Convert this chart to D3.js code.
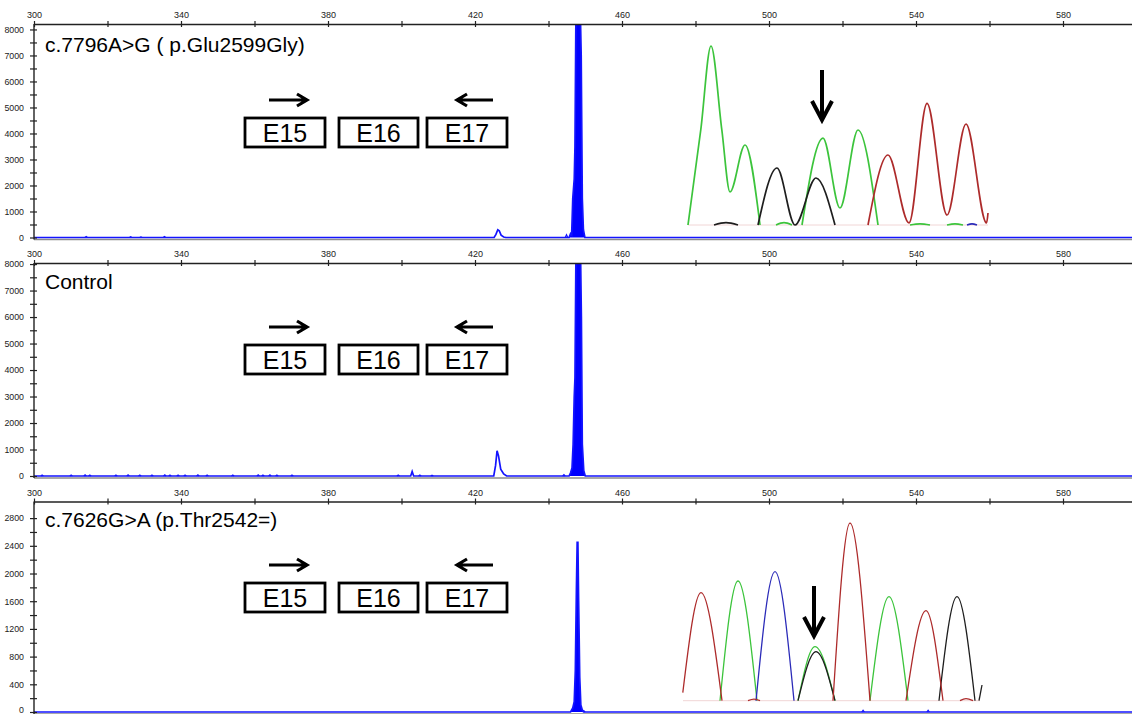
<!DOCTYPE html>
<html>
<head>
<meta charset="utf-8">
<script src="https://cdn.jsdelivr.net/npm/d3@7"></script>
<style>
  html, body { margin: 0; padding: 0; background: #fff; }
  svg { display: block; }
  text { font-family: Arial, "Liberation Sans", sans-serif; }
</style>
</head>
<body>
<svg id="chart" width="1132" height="714"></svg>
<script>
// ---------- data ----------
// Fragment size axis (bp), shared by the three capillary runs
const sizeTicks = [300, 320, 340, 360, 380, 400, 420, 440, 460, 480, 500, 520, 540, 560, 580, 600];
const sizeTickLabels = [300, 340, 380, 420, 460, 500, 540, 580];

const panelTitles = ["c.7796A>G ( p.Glu2599Gly)", "Control", "c.7626G>A (p.Thr2542=)"];

// RFU axis ticks
const rfuMajorHigh = [0, 1000, 2000, 3000, 4000, 5000, 6000, 7000, 8000];
const rfuMinorHigh = [500, 1500, 2500, 3500, 4500, 5500, 6500, 7500];
const rfuMajorLow = [0, 400, 800, 1200, 1600, 2000, 2400, 2800];
const rfuMinorLow = [200, 600, 1000, 1400, 1800, 2200, 2600];
const rfuDomainMax = [8210, 8040, 3040];

// Blue channel traces [size bp, RFU]
const traceVariant1 = [[300, 0], [425.2, 0], [425.7, 120], [426.2, 300], [426.6, 260], [427.1, 90], [427.8, 20], [428.4, 0], [600, 0]];
const peakVariant1 = [[445.6, 0], [446.0, 150], [446.3, 100], [446.6, 1500], [447.0, 2250], [447.2, 3500], [447.45, 8400], [448.7, 8400], [448.9, 7000], [449.2, 1500], [449.5, 300], [449.9, 0]];
const noiseVariant1 = [[314.2, 35], [326.3, 30], [329.1, 25], [335.5, 35], [444.9, 110]];

const traceControl = [[300, 0], [402.5, 0], [402.9, 170], [403.3, 0], [425.1, 0], [425.6, 400], [426.0, 950], [426.4, 760], [427.0, 260], [427.8, 80], [428.6, 0], [600, 0]];
const peakControl = [[445.6, 0], [446.0, 120], [446.4, 300], [446.7, 1200], [447.0, 3000], [447.2, 3700], [447.45, 8100], [448.75, 8100], [448.95, 6000], [449.2, 1200], [449.6, 200], [450.0, 0]];
const noiseControl = [[302.2, 40], [310.1, 35], [313.9, 45], [315.2, 35], [322.3, 40], [325.6, 45], [328.8, 40], [332.1, 40], [335.6, 45], [337.0, 35], [339.2, 40], [341.1, 40], [344.6, 45], [347.1, 35], [354.1, 40], [361.0, 45], [362.3, 40], [364.2, 45], [366.1, 40], [370.2, 40], [399.1, 40], [405.0, 40], [408.3, 30], [444.2, 50]];

const traceVariant2 = [[300, 0], [600, 0]];
const peakVariant2 = [[446.0, 0], [446.6, 60], [447.0, 150], [447.3, 600], [447.6, 1800], [447.8, 2450], [448.0, 2450], [448.2, 1600], [448.5, 500], [448.8, 100], [449.2, 30], [449.6, 0]];
const noiseVariant2 = [[449.6, 20], [525.6, 25], [543.3, 25]];

// Exon schematic
const exonLabels = ["E15", "E16", "E17"];

// Sanger trace excerpts [scan, signal], split into drawn segments
const seqVariant1Green = [
  [[1, 0], [7.4, 1030], [12.5, 1935], [17.9, 1030], [22, 357], [29.5, 865], [37, 0]],
  [[45, 0], [49, 25], [53, 0]],
  [[58, 0], [68.5, 940], [77, 184], [86, 1027], [96, 0]],
  [[112, 0], [117, 12], [122, 0]],
  [[130.5, 0], [134.5, 12], [138.5, 0]]
];
const seqVariant1Black = [
  [[14, 0], [20, 25], [26, 0]],
  [[36, 0], [45.5, 616], [54.5, 0], [65, 508], [74.5, 0]]
];
const seqVariant1Red = [
  [[91, 0], [101, 757], [111.5, 22], [120.5, 1315], [130.5, 108], [140, 1092], [150.3, 22], [151, 130]]
];
const seqVariant1Blue = [
  [[140.5, 0], [143, 12], [145.5, 0]]
];
const seqVariant1Arrow = [68, 1676, 1135]; // scan, tail signal, tip signal

const seqVariant2Red = [
  [[1.4, 80], [10.5, 1080], [21, 0]],
  [[34, 0], [37, 15], [40, 0]],
  [[76.5, 0], [85, 1777], [95, 0]],
  [[113, 0], [123, 900], [131.5, 0]],
  [[140, 0], [143, 20], [146.5, 0]]
];
const seqVariant2Green = [
  [[20, 0], [29, 1197], [38.5, 0]],
  [[59, 0], [67.5, 540], [77.5, 0]],
  [[95, 0], [104.5, 1040], [114, 0]]
];
const seqVariant2Blue = [
  [[38, 0], [47.5, 1290], [57, 0]]
];
const seqVariant2Black = [
  [[59, 0], [68, 490], [77.5, 0]],
  [[129.5, 0], [138.5, 1040], [147.5, 0]],
  [[149.5, 0], [151, 157]]
];
const seqVariant2Arrow = [67, 1147, 647];

// ---------- layout ----------
const W = 1132, H = 714;
const svg = d3.select("#chart");
const x = d3.scaleLinear().domain([300, 600]).range([34, 34 + 300 * 3.675]);

const panels = [
  { title: panelTitles[0], top: 24, zero: 237.5, titleY: 51.5, schemY: 100,
    major: rfuMajorHigh, minor: rfuMinorHigh, max: rfuDomainMax[0],
    trace: traceVariant1, peak: peakVariant1, noise: noiseVariant1,
    seq: { x0: 686, x1: 996, base: 225, top: 40, baseFrom: 1, baseTo: 151, width: 1.7,
           green: seqVariant1Green, black: seqVariant1Black, red: seqVariant1Red, blue: seqVariant1Blue,
           arrow: seqVariant1Arrow } },
  { title: panelTitles[1], top: 263, zero: 476, titleY: 289, schemY: 327,
    major: rfuMajorHigh, minor: rfuMinorHigh, max: rfuDomainMax[1],
    trace: traceControl, peak: peakControl, noise: noiseControl, seq: null },
  { title: panelTitles[2], top: 501.5, zero: 712, titleY: 526.5, schemY: 565,
    major: rfuMajorLow, minor: rfuMinorLow, max: rfuDomainMax[2],
    trace: traceVariant2, peak: peakVariant2, noise: noiseVariant2,
    seq: { x0: 680, x1: 990, base: 700.7, top: 500.7, baseFrom: 1.5, baseTo: 150, width: 1.3,
           green: seqVariant2Green, black: seqVariant2Black, red: seqVariant2Red, blue: seqVariant2Blue,
           arrow: seqVariant2Arrow } }
];

// schematic units -> pixels (exon boxes and primer arrows)
const schem = d3.scaleLinear().domain([0, 262]).range([245, 507]);
const exonSpans = [[0, 80], [94, 173], [182, 262]];
const primerFwd = [24, 62];
const primerRev = [248, 212];

const traceBlue = "#1414ff";
const seqColors = { green: "#3cc43c", black: "#1e1e1e", red: "#ad2b2b", blue: "#2b2bb8" };
const axisFont = "Arial, 'Liberation Sans', sans-serif";

panels.forEach((p, i) => {
  const g = svg.append("g");
  const y = d3.scaleLinear().domain([0, p.max]).range([p.zero, p.top]);

  const clipId = "clip" + i;
  svg.append("clipPath").attr("id", clipId)
    .append("rect").attr("x", x(300)).attr("y", p.top).attr("width", W - x(300)).attr("height", p.zero - p.top + 3);

  // bottom frame line
  g.append("line")
    .attr("x1", x(300)).attr("x2", W)
    .attr("y1", p.zero + 2).attr("y2", p.zero + 2)
    .attr("stroke", "#8c8c8c").attr("stroke-width", 1.6);

  // ---- blue channel ----
  const plot = g.append("g").attr("clip-path", `url(#${clipId})`);
  const full = p.trace.concat(p.peak).sort((a, b) => a[0] - b[0]);
  plot.append("path")
    .datum(p.peak)
    .attr("d", d3.area().x(d => x(d[0])).y0(y(0)).y1(d => y(d[1])))
    .attr("fill", "#0000ff");
  plot.append("path")
    .datum(full)
    .attr("d", d3.line().x(d => x(d[0])).y(d => y(d[1])))
    .attr("fill", "none").attr("stroke", traceBlue).attr("stroke-width", 1.7);
  plot.selectAll("path.noise").data(p.noise).join("path")
    .attr("class", "noise")
    .attr("d", d => `M${x(d[0] - 0.35)},${y(0)}L${x(d[0])},${y(d[1])}L${x(d[0] + 0.35)},${y(0)}`)
    .attr("fill", "none").attr("stroke", traceBlue).attr("stroke-width", 1.2);

  // ---- size axis (top) ----
  const xa = g.append("g").attr("transform", `translate(0,${p.top})`)
    .call(d3.axisTop(x).tickValues(sizeTicks).tickSize(3).tickSizeOuter(0).tickPadding(3)
      .tickFormat(d => sizeTickLabels.includes(d) ? d : ""));
  xa.select(".domain").attr("stroke", "#222").attr("stroke-width", 1.4);
  xa.selectAll(".tick line").attr("y1", 3).attr("stroke", "#222").attr("stroke-width", 1.2);
  xa.selectAll(".tick text").attr("font-size", 9).attr("fill", "#222").attr("font-family", axisFont);

  // ---- RFU axis (left) ----
  const ya = g.append("g").attr("transform", `translate(${x(300)},0)`)
    .call(d3.axisLeft(y).tickValues(p.major).tickSize(4).tickSizeOuter(0).tickPadding(6).tickFormat(d3.format("d")));
  ya.select(".domain").attr("d", `M0,${p.zero + 2}V${p.top}`).attr("stroke", "#222").attr("stroke-width", 1.4);
  ya.selectAll(".tick line").attr("x1", 3).attr("stroke", "#222").attr("stroke-width", 1.2);
  ya.selectAll(".tick text").attr("font-size", 8.8).attr("fill", "#222").attr("font-family", axisFont)
    .attr("dy", d => (d === 0 && p.zero > H - 6) ? "0.1em" : "0.32em");
  const ym = g.append("g").attr("transform", `translate(${x(300)},0)`)
    .call(d3.axisLeft(y).tickValues(p.minor).tickSize(4).tickFormat(""));
  ym.select(".domain").remove();
  ym.selectAll(".tick line").attr("x1", 3).attr("stroke", "#222").attr("stroke-width", 1.2);

  // ---- panel title ----
  g.append("text").attr("x", 45).attr("y", p.titleY)
    .attr("font-size", 21).attr("fill", "#000").text(p.title);

  // ---- exon schematic ----
  const sg = g.append("g");
  const boxTop = p.schemY + 18, boxH = 29;
  sg.selectAll("rect").data(exonSpans).join("rect")
    .attr("x", d => schem(d[0])).attr("y", boxTop)
    .attr("width", d => schem(d[1]) - schem(d[0])).attr("height", boxH)
    .attr("fill", "#fff").attr("stroke", "#000").attr("stroke-width", 2.8);
  sg.selectAll("text").data(exonSpans).join("text")
    .attr("x", d => (schem(d[0]) + schem(d[1])) / 2).attr("y", boxTop + 23.5)
    .attr("text-anchor", "middle").attr("font-size", 25).attr("fill", "#000")
    .text((d, k) => exonLabels[k]);
  [primerFwd, primerRev].forEach(pr => {
    const xs = schem(pr[0]), xe = schem(pr[1]), dir = Math.sign(xe - xs);
    sg.append("path")
      .attr("d", `M${xs},${p.schemY}H${xe - dir * 1.5}M${xe - dir * 10},${p.schemY - 6}L${xe},${p.schemY}L${xe - dir * 10},${p.schemY + 6}`)
      .attr("fill", "none").attr("stroke", "#000").attr("stroke-width", 3.2)
      .attr("stroke-linejoin", "miter");
  });

  // ---- Sanger inset ----
  if (p.seq) {
    const s = p.seq;
    const sx = d3.scaleLinear().domain([0, 155]).range([s.x0, s.x1]);
    const sy = d3.scaleLinear().domain([0, 2000]).range([s.base, s.top]);
    const ig = g.append("g");
    ig.append("line").attr("x1", sx(s.baseFrom)).attr("x2", sx(s.baseTo))
      .attr("y1", sy(0)).attr("y2", sy(0)).attr("stroke", "#f1d6d6").attr("stroke-width", 1);
    const ln = d3.line().x(d => sx(d[0])).y(d => sy(d[1])).curve(d3.curveMonotoneX);
    ["green", "black", "blue", "red"].forEach(c => {
      ig.selectAll("path." + c).data(s[c]).join("path")
        .attr("class", c).attr("d", ln)
        .attr("fill", "none").attr("stroke", seqColors[c]).attr("stroke-width", s.width);
    });
    const [ax, tail, tip] = s.arrow;
    const X = sx(ax), Y0 = sy(tail), Y1 = sy(tip);
    ig.append("path")
      .attr("d", `M${X},${Y0}V${Y1 - 2}M${X - 10},${Y1 - 19}L${X},${Y1}L${X + 10},${Y1 - 19}`)
      .attr("fill", "none").attr("stroke", "#000").attr("stroke-width", 4);
  }
});
</script>
</body>
</html>
